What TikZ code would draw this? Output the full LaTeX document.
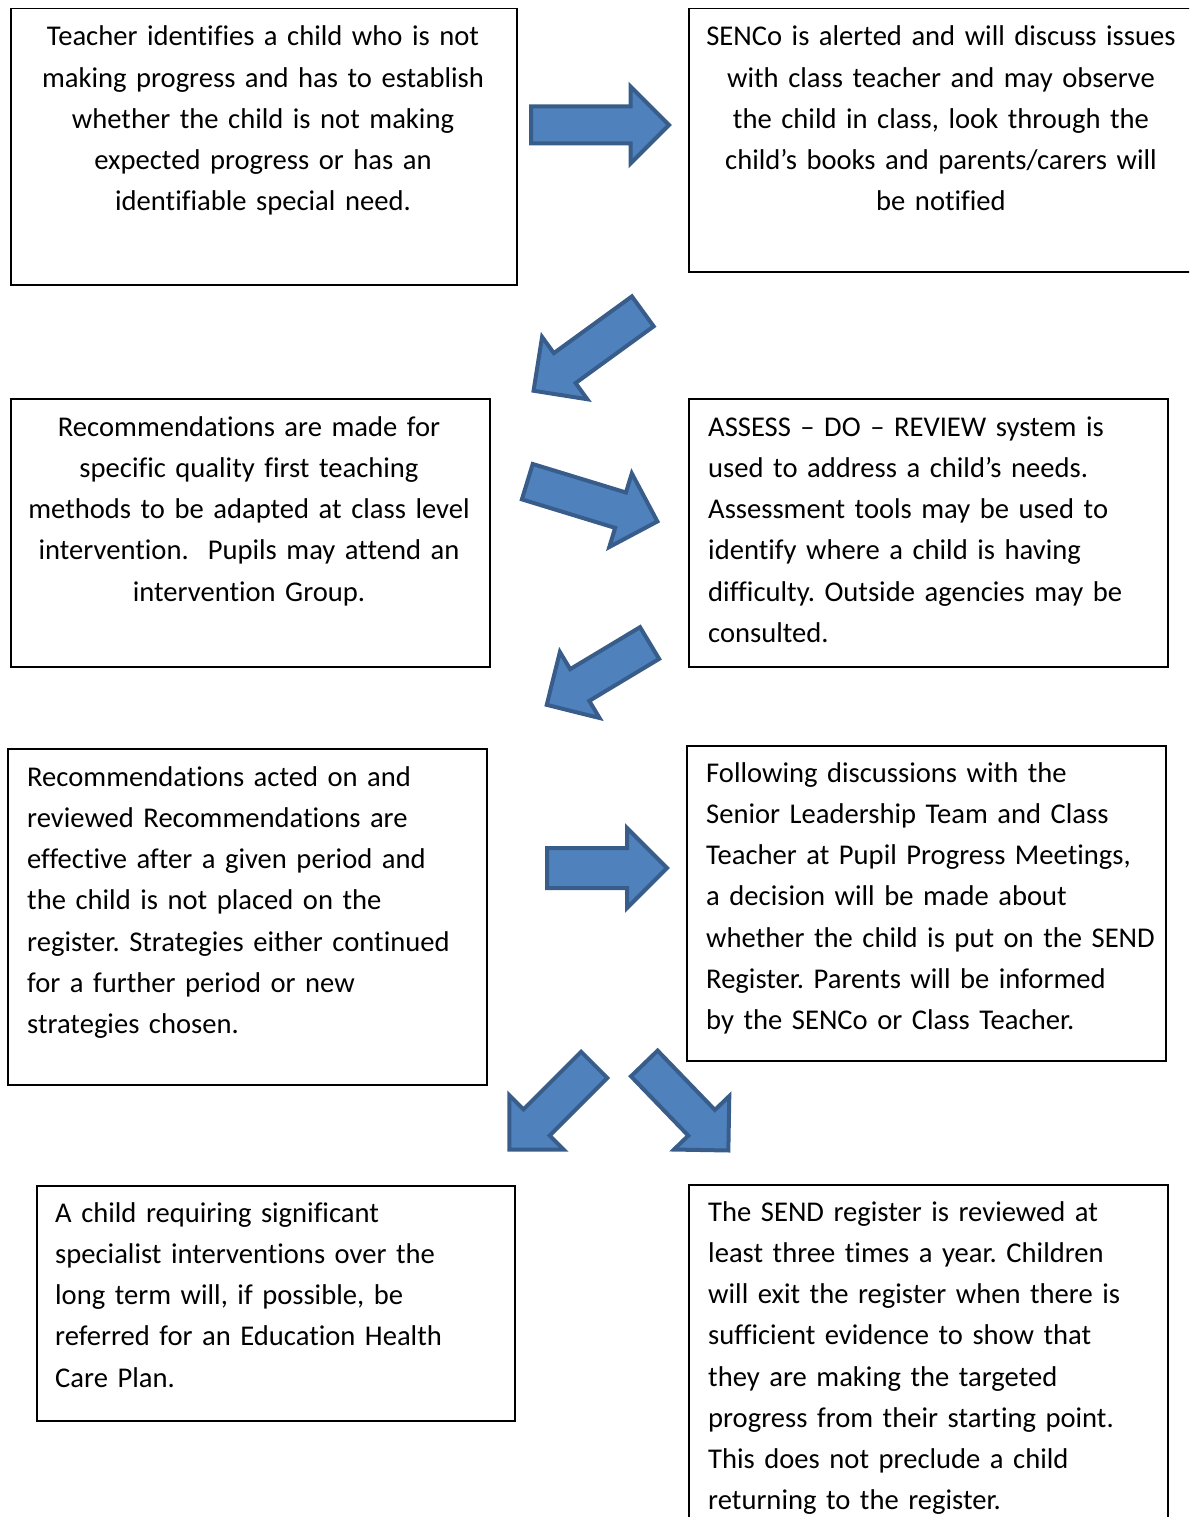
\documentclass[tikz,border=0pt]{standalone}
\usepackage{fontspec}
\setmainfont{Carlito}[Ligatures=CommonOff]
\usepackage{tikz}
\usetikzlibrary{shapes.arrows}
\frenchspacing

\definecolor{arrowFill}{HTML}{4F81BD}
\definecolor{arrowEdge}{HTML}{385D8A}

\tikzset{
  panel/.style={draw, line width=1.5pt, rectangle, inner sep=0pt, anchor=north west},
  panelText/.style={inner sep=0pt, font=\fontsize{28.6}{41.25}\selectfont},
  flowArrow/.style={single arrow, draw=arrowEdge, fill=arrowFill, line width=4pt,
    inner xsep=0pt, inner ysep=16.5pt, single arrow head extend=20pt,
    single arrow head indent=0pt, anchor=tail}
}

\begin{document}
\begin{tikzpicture}[x=1pt, y=-1pt]
        \useasboundingbox (0,0) rectangle (1189,1517);
        \clip (0,0) rectangle (1189,1517);

        % Row 1: teacher and SENCo
        \node [panel, minimum width=506pt, minimum height=276pt] (identify) at (10,8) {};
        \node [panelText, text width=480pt, align=center, anchor=base] (identifyText) at (263,46)
          {Teacher identifies a child who is not\\making progress and has to establish\\whether the child is not making\\expected progress or has an\\identifiable special need.};
        \node [panel, minimum width=512pt, minimum height=263pt] (alert) at (688,8) {};
        \node [panelText, text width=490pt, align=center, anchor=base] (alertText) at (941,46)
          {SENCo is alerted and will discuss issues\\with class teacher and may observe\\the child in class, look through the\\child’s books and parents/carers will\\be notified};

        % Row 2: recommendations and assess-do-review
        \node [panel, minimum width=479pt, minimum height=268pt] (recommend) at (10,398) {};
        \node [panelText, text width=470pt, align=center, anchor=base] (recommendText) at (249,436)
          {Recommendations are made for\\specific quality first teaching\\methods to be adapted at class level\\intervention.~~Pupils may attend an\\intervention Group.};
        \node [panel, minimum width=479pt, minimum height=268pt] (assess) at (688,398) {};
        \node [panelText, text width=455pt, align=left, anchor=base west] (assessText) at (708,436)
          {ASSESS – DO – REVIEW system is\\used to address a child’s needs.\\Assessment tools may be used to\\identify where a child is having\\difficulty. Outside agencies may be\\consulted.};

        % Row 3: review and decision
        \node [panel, minimum width=479pt, minimum height=336pt] (reviewed) at (7,748) {};
        \node [panelText, text width=455pt, align=left, anchor=base west] (reviewedText) at (27,786)
          {Recommendations acted on and\\reviewed Recommendations are\\effective after a given period and\\the child is not placed on the\\register. Strategies either continued\\for a further period or new\\strategies chosen.};
        \node [panel, minimum width=479pt, minimum height=315pt] (decision) at (686,745) {};
        \node [panelText, text width=455pt, align=left, anchor=base west] (decisionText) at (706,782)
          {Following discussions with the\\Senior Leadership Team and Class\\Teacher at Pupil Progress Meetings,\\a decision will be made about\\whether the child is put on the SEND\\Register. Parents will be informed\\by the SENCo or Class Teacher.};

        % Row 4: EHC plan and register review
        \node [panel, minimum width=478pt, minimum height=235pt] (ehcp) at (36,1185) {};
        \node [panelText, text width=450pt, align=left, anchor=base west] (ehcpText) at (55,1222)
          {A child requiring significant\\specialist interventions over the\\long term will, if possible, be\\referred for an Education Health\\Care Plan.};
        \node [panel, minimum width=479pt, minimum height=360pt] (register) at (688,1184) {};
        \node [panelText, text width=455pt, align=left, anchor=base west] (registerText) at (708,1221)
          {The SEND register is reviewed at\\least three times a year. Children\\will exit the register when there is\\sufficient evidence to show that\\they are making the targeted\\progress from their starting point.\\This does not preclude a child\\returning to the register.};

        % Block arrows (placed by their tails)
        \node [flowArrow, minimum height=138pt] (toAlert) at (529,125) {};
        \node [flowArrow, minimum height=135pt, rotate=216] (toRecommend) at (644.4,310.2) {};
        \node [flowArrow, minimum height=136pt, rotate=-17] (toAssess) at (525.4,481.1) {};
        \node [flowArrow, minimum height=120pt, rotate=211] (toReviewed) at (651.3,642) {};
        \node [flowArrow, minimum height=120pt, inner ysep=18pt] (toDecision) at (545,868) {};
        \node [flowArrow, minimum height=120pt, rotate=225] (toEhcp) at (595.6,1063.4) {};
        \node [flowArrow, minimum height=121pt, rotate=-46] (toRegister) at (642.9,1062) {};
\end{tikzpicture}
\end{document}
